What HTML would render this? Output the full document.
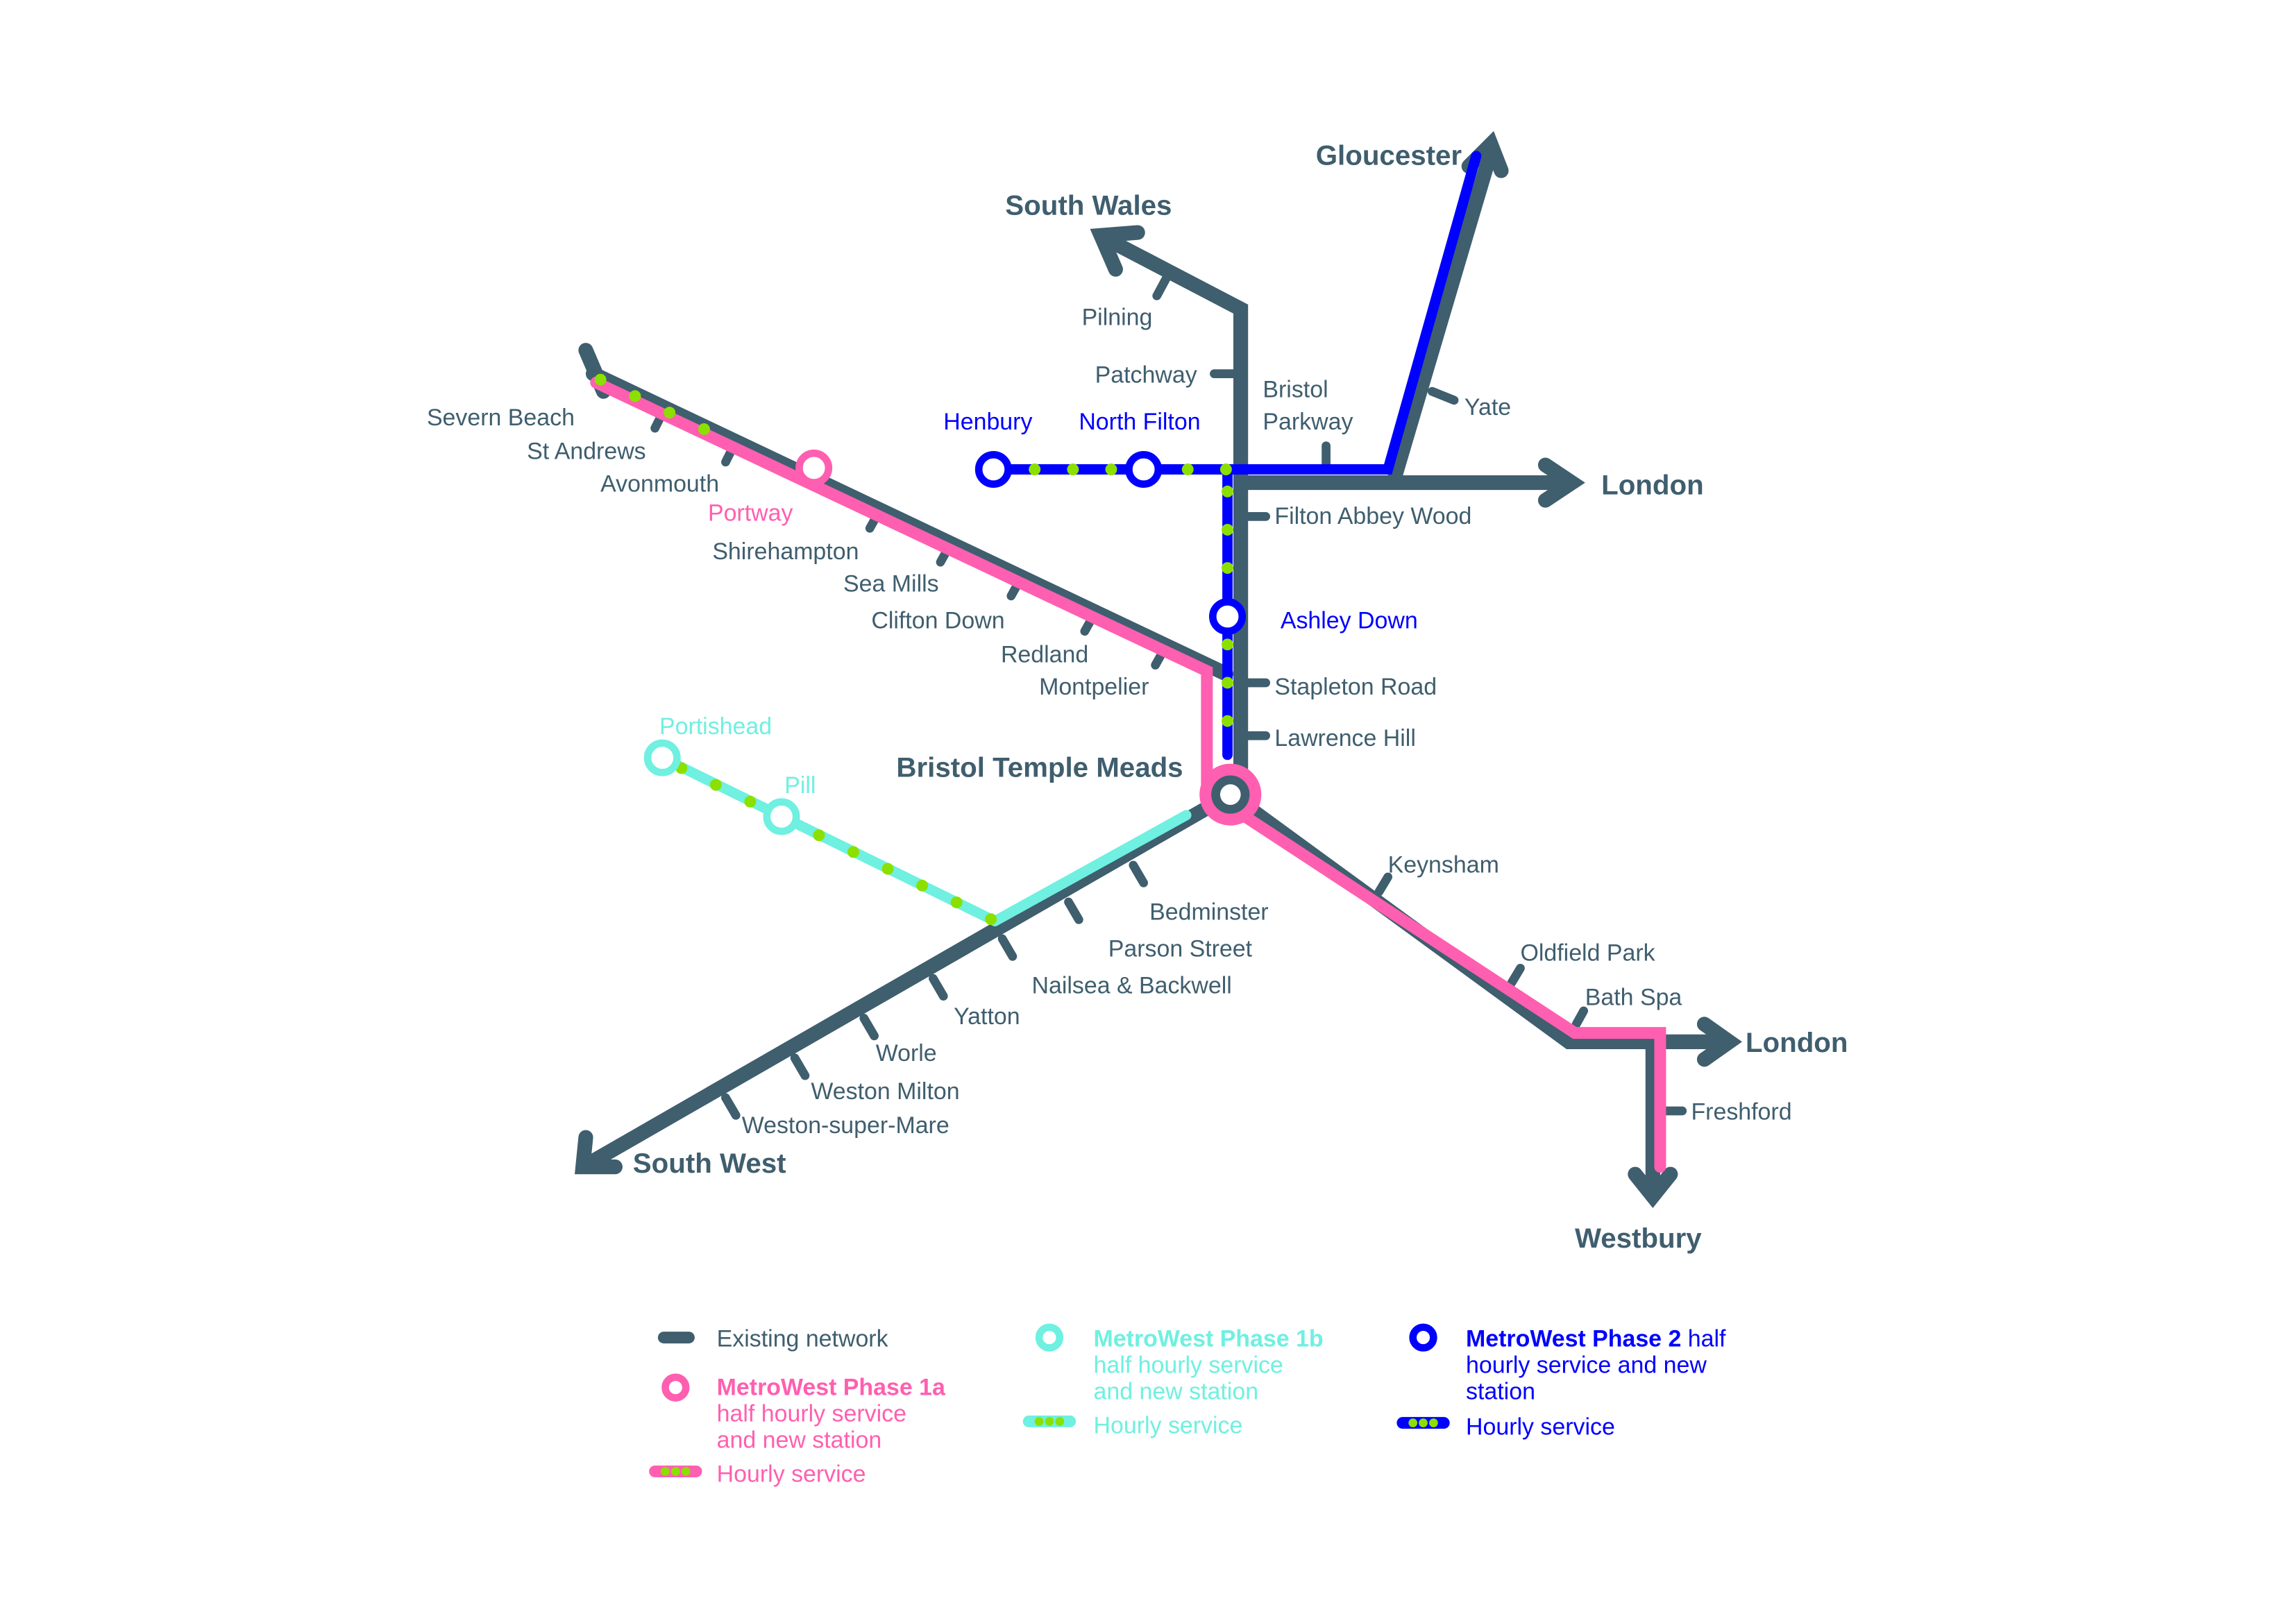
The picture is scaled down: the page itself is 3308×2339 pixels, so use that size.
<!DOCTYPE html>
<html><head><meta charset="utf-8"><style>
html,body{margin:0;padding:0;background:#fff}
svg{display:block}
text{font-family:"Liberation Sans",sans-serif;font-size:16px;fill:#3f5e6e}
.b{font-weight:bold;font-size:19px}
.p{fill:#ff5fb0}.bl{fill:#0000ff}.c{fill:#6ff0e0}
</style></head><body>
<svg width="3308" height="2339" viewBox="2 2 1560 1103" xmlns="http://www.w3.org/2000/svg">
<g stroke-linecap="round" stroke-linejoin="miter" fill="none">
<g stroke="#3f5e6e" stroke-width="10">
<polyline points="755,165 845,212 845,540"/>
<polyline points="845,330 1068,330"/>
<line x1="950" y1="325" x2="1015" y2="105"/>
<line x1="405" y1="256" x2="835" y2="460"/>
<line x1="400" y1="240" x2="412" y2="268"/>
<line x1="838" y1="542" x2="400" y2="794"/>
<polyline points="838,542 1068,710 1175,710"/>
<line x1="1125" y1="710" x2="1125" y2="812"/>
</g>
<g stroke="#3f5e6e" stroke-width="10">
<polyline points="760,185 750,162 775,160"/>
<polyline points="1000,115 1015,100 1022,118"/>
<polyline points="1052,318 1070,330 1052,342"/>
<polyline points="400,775 398,795 420,795"/>
<polyline points="1160,698 1177,710 1160,722"/>
<polyline points="1113,800 1125,815 1137,800"/>
</g>
<g stroke="#3f5e6e" stroke-width="6">
<line x1="795" y1="190" x2="788" y2="203"/>
<line x1="827" y1="256" x2="840" y2="256"/>
<line x1="903" y1="305" x2="903" y2="318"/>
<line x1="975" y1="268" x2="990" y2="274"/>
<line x1="850" y1="353" x2="862" y2="353"/>
<line x1="850" y1="466" x2="862" y2="466"/>
<line x1="850" y1="502" x2="862" y2="502"/>
<line x1="452" y1="283" x2="447" y2="293"/>
<line x1="500" y1="306" x2="495" y2="316"/>
<line x1="598" y1="352" x2="593" y2="361"/>
<line x1="646" y1="375" x2="641" y2="384"/>
<line x1="694" y1="398" x2="689" y2="407"/>
<line x1="744" y1="422" x2="739" y2="431"/>
<line x1="792" y1="445" x2="787" y2="454"/>
<line x1="772" y1="590" x2="779" y2="602"/>
<line x1="728" y1="615" x2="735" y2="627"/>
<line x1="683" y1="640" x2="690" y2="652"/>
<line x1="636" y1="667" x2="643" y2="679"/>
<line x1="589" y1="694" x2="596" y2="706"/>
<line x1="542" y1="721" x2="549" y2="733"/>
<line x1="495" y1="748" x2="502" y2="760"/>
<line x1="945" y1="598" x2="939" y2="608"/>
<line x1="1035" y1="660" x2="1029" y2="670"/>
<line x1="1078" y1="689" x2="1073" y2="698"/>
<line x1="1133" y1="757" x2="1145" y2="757"/>
</g>
<g stroke="#ff5fb0" stroke-width="8">
<polyline points="407,262 822,458 822,540"/>
<polyline points="845,555 1072,704 1130,704 1130,795"/>
</g>
<g stroke="#0000ff" stroke-width="7">
<polyline points="677,321 838,321 945,321 1005,108"/>
<line x1="836" y1="321" x2="836" y2="515"/>
</g>
<g stroke="#6ff0e0" stroke-width="7">
<line x1="808" y1="556" x2="678" y2="628"/>
<line x1="452" y1="517" x2="678" y2="628"/>
</g>
<g stroke="#8be000" stroke-width="8" stroke-dasharray="0 26">
<line x1="705" y1="321" x2="840" y2="321"/>
<line x1="836" y1="336" x2="836" y2="515"/>
<line x1="410" y1="260" x2="500" y2="303"/>
<line x1="465" y1="524" x2="678" y2="628"/>
</g>
<circle cx="677" cy="321" r="10" fill="#fff" stroke="#0000ff" stroke-width="5"/>
<circle cx="779" cy="321" r="10" fill="#fff" stroke="#0000ff" stroke-width="5"/>
<circle cx="836" cy="421" r="10" fill="#fff" stroke="#0000ff" stroke-width="5"/>
<circle cx="555" cy="320" r="10" fill="#fff" stroke="#ff5fb0" stroke-width="5"/>
<circle cx="452" cy="517" r="10" fill="#fff" stroke="#6ff0e0" stroke-width="5"/>
<circle cx="533" cy="557" r="10" fill="#fff" stroke="#6ff0e0" stroke-width="5"/>
<circle cx="838" cy="542" r="17" fill="#3f5e6e" stroke="#ff5fb0" stroke-width="8"/>
<circle cx="838" cy="542" r="7" fill="#fff"/>
<line x1="453" y1="911" x2="470" y2="911" stroke="#3f5e6e" stroke-width="8"/>
<circle cx="461" cy="945" r="7" fill="#fff" stroke="#ff5fb0" stroke-width="5"/>
<circle cx="715" cy="911" r="7" fill="#fff" stroke="#6ff0e0" stroke-width="5"/>
<circle cx="969" cy="911" r="7" fill="#fff" stroke="#0000ff" stroke-width="5"/>
<line x1="447" y1="1002" x2="475" y2="1002" stroke="#ff5fb0" stroke-width="8"/>
<line x1="701" y1="968" x2="729" y2="968" stroke="#6ff0e0" stroke-width="8"/>
<line x1="955" y1="969" x2="983" y2="969" stroke="#0000ff" stroke-width="8"/>
<g stroke="#8be000" stroke-width="6" stroke-dasharray="0 7">
<line x1="454" y1="1002" x2="470" y2="1002"/>
<line x1="708" y1="968" x2="724" y2="968"/>
<line x1="962" y1="969" x2="978" y2="969"/>
</g>
</g>
<text class="b" x="685" y="148">South Wales</text>
<text class="b" x="896" y="114">Gloucester</text>
<text class="b" x="1090" y="338">London</text>
<text class="b" x="1188" y="717">London</text>
<text class="b" x="1072" y="850">Westbury</text>
<text class="b" x="432" y="799">South West</text>
<text class="b" x="611" y="530">Bristol Temple Meads</text>
<text x="737" y="223">Pilning</text>
<text x="746" y="262">Patchway</text>
<text x="860" y="272">Bristol</text>
<text x="860" y="294">Parkway</text>
<text x="997" y="284">Yate</text>
<text x="868" y="358">Filton Abbey Wood</text>
<text x="868" y="474">Stapleton Road</text>
<text x="868" y="509">Lawrence Hill</text>
<text class="bl" x="872" y="429">Ashley Down</text>
<text class="bl" x="643" y="294">Henbury</text>
<text class="bl" x="735" y="294">North Filton</text>
<text x="292" y="291">Severn Beach</text>
<text x="360" y="314">St Andrews</text>
<text x="410" y="336">Avonmouth</text>
<text class="p" x="483" y="356">Portway</text>
<text x="486" y="382">Shirehampton</text>
<text x="575" y="404">Sea Mills</text>
<text x="594" y="429">Clifton Down</text>
<text x="682" y="452">Redland</text>
<text x="708" y="474">Montpelier</text>
<text class="c" x="450" y="501">Portishead</text>
<text class="c" x="535" y="541">Pill</text>
<text x="783" y="627">Bedminster</text>
<text x="755" y="652">Parson Street</text>
<text x="703" y="677">Nailsea &amp; Backwell</text>
<text x="650" y="698">Yatton</text>
<text x="597" y="723">Worle</text>
<text x="553" y="749">Weston Milton</text>
<text x="506" y="772">Weston-super-Mare</text>
<text x="945" y="595">Keynsham</text>
<text x="1035" y="655">Oldfield Park</text>
<text x="1079" y="685">Bath Spa</text>
<text x="1151" y="763">Freshford</text>
<text x="489" y="917">Existing network</text>
<text class="p" x="489" y="950" font-weight="bold">MetroWest Phase 1a</text>
<text class="p" x="489" y="968">half hourly service</text>
<text class="p" x="489" y="986">and new station</text>
<text class="p" x="489" y="1009">Hourly service</text>
<text class="c" x="745" y="917" font-weight="bold">MetroWest Phase 1b</text>
<text class="c" x="745" y="935">half hourly service</text>
<text class="c" x="745" y="953">and new station</text>
<text class="c" x="745" y="976">Hourly service</text>
<text class="bl" x="998" y="917" font-weight="bold">MetroWest Phase 2 <tspan font-weight="normal">half</tspan></text>
<text class="bl" x="998" y="935">hourly service and new</text>
<text class="bl" x="998" y="953">station</text>
<text class="bl" x="998" y="977">Hourly service</text>
</svg>
</body></html>
